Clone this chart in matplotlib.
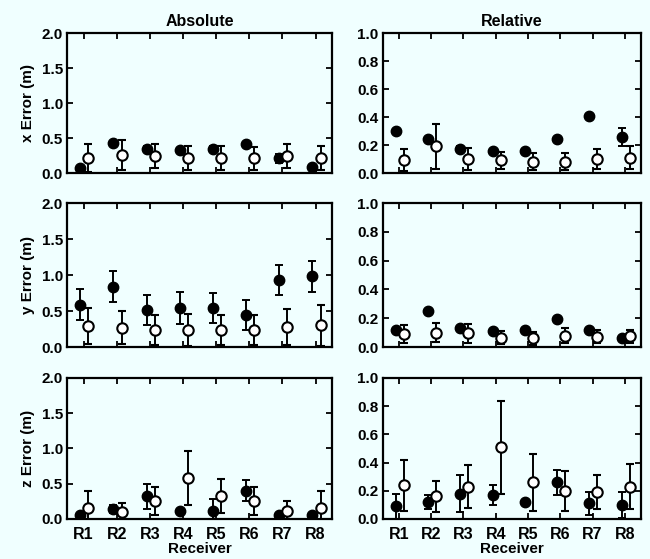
import numpy as np
import matplotlib.pyplot as plt

plt.rcParams['font.family'] = ['Liberation Sans', 'DejaVu Sans']
plt.rcParams['font.weight'] = 'bold'
plt.rcParams['axes.titleweight'] = 'bold'
plt.rcParams['axes.labelweight'] = 'bold'

receivers = ['R1', 'R2', 'R3', 'R4', 'R5', 'R6', 'R7', 'R8']

# Absolute errors (m): filled = solid symbols, open = hollow symbols
x_abs_filled = [0.07, 0.43, 0.35, 0.33, 0.35, 0.42, 0.21, 0.09]
x_abs_filled_err = [0.02, 0.03, 0.03, 0.03, 0.03, 0.03, 0.06, 0.02]
x_abs_open = [0.21, 0.26, 0.24, 0.21, 0.21, 0.21, 0.24, 0.21]
x_abs_open_err = [0.20, 0.21, 0.17, 0.17, 0.17, 0.16, 0.17, 0.17]

y_abs_filled = [0.59, 0.84, 0.51, 0.54, 0.54, 0.45, 0.93, 0.98]
y_abs_filled_err = [0.22, 0.22, 0.21, 0.22, 0.21, 0.21, 0.21, 0.22]
y_abs_open = [0.29, 0.27, 0.24, 0.24, 0.24, 0.24, 0.28, 0.30]
y_abs_open_err = [0.25, 0.23, 0.21, 0.22, 0.21, 0.21, 0.25, 0.28]

z_abs_filled = [0.05, 0.14, 0.32, 0.12, 0.11, 0.40, 0.05, 0.06]
z_abs_filled_err = [0.02, 0.06, 0.18, 0.02, 0.17, 0.15, 0.02, 0.02]
z_abs_open = [0.16, 0.10, 0.26, 0.58, 0.33, 0.26, 0.12, 0.16]
z_abs_open_err = [0.23, 0.13, 0.20, 0.38, 0.24, 0.20, 0.14, 0.24]

# Relative errors (m)
x_rel_filled = [0.30, 0.24, 0.17, 0.155, 0.16, 0.24, 0.41, 0.26]
x_rel_filled_err = [0.01, 0.01, 0.02, 0.01, 0.01, 0.01, 0.01, 0.065]
x_rel_open = [0.095, 0.19, 0.10, 0.09, 0.08, 0.08, 0.10, 0.11]
x_rel_open_err = [0.08, 0.16, 0.08, 0.06, 0.06, 0.06, 0.07, 0.08]

y_rel_filled = [0.12, 0.25, 0.13, 0.11, 0.12, 0.195, 0.115, 0.06]
y_rel_filled_err = [0.01, 0.01, 0.01, 0.01, 0.01, 0.01, 0.01, 0.01]
y_rel_open = [0.09, 0.10, 0.095, 0.065, 0.06, 0.08, 0.07, 0.075]
y_rel_open_err = [0.065, 0.065, 0.065, 0.045, 0.045, 0.05, 0.045, 0.045]

z_rel_filled = [0.09, 0.12, 0.18, 0.17, 0.12, 0.26, 0.11, 0.10]
z_rel_filled_err = [0.09, 0.05, 0.13, 0.07, 0.01, 0.09, 0.08, 0.09]
z_rel_open = [0.24, 0.16, 0.23, 0.51, 0.26, 0.20, 0.19, 0.23]
z_rel_open_err = [0.18, 0.11, 0.15, 0.33, 0.20, 0.14, 0.12, 0.16]

bg = '#f0ffff'
fig = plt.figure(figsize=(6.5, 5.59), dpi=100, facecolor=bg)

rows = [
    (0.6905, 0.2504, 'x', (x_abs_filled, x_abs_filled_err, x_abs_open, x_abs_open_err),
     (x_rel_filled, x_rel_filled_err, x_rel_open, x_rel_open_err)),
    (0.3792, 0.2576, 'y', (y_abs_filled, y_abs_filled_err, y_abs_open, y_abs_open_err),
     (y_rel_filled, y_rel_filled_err, y_rel_open, y_rel_open_err)),
    (0.0716, 0.2522, 'z', (z_abs_filled, z_abs_filled_err, z_abs_open, z_abs_open_err),
     (z_rel_filled, z_rel_filled_err, z_rel_open, z_rel_open_err)),
]

pos = np.arange(1, 9)


def draw(ax, data, ymax, yticks):
    f, fe, o, oe = data
    ax.errorbar(pos - 0.1, f, yerr=fe, fmt='o', color='black', ms=7.5,
                elinewidth=1.4, capsize=3, capthick=1.4, zorder=3)
    ax.errorbar(pos + 0.15, o, yerr=oe, fmt='o', color='black', mfc='white',
                mec='black', mew=1.5, ms=7.5, elinewidth=1.4, capsize=3,
                capthick=1.4, zorder=4)
    ax.set_xlim(0.5, 8.5)
    ax.set_ylim(0, ymax)
    ax.set_yticks(yticks)
    ax.set_yticklabels(['%.1f' % t for t in yticks])
    ax.set_xticks(pos)
    ax.set_facecolor(bg)
    ax.tick_params(direction='in', top=True, right=True, length=4, width=1.3,
                   labelsize=11, pad=3)
    ax.tick_params(axis='x', labelsize=11.5, pad=6)
    for s in ax.spines.values():
        s.set_linewidth(1.6)


for i, (b, h, lab, absd, reld) in enumerate(rows):
    axl = fig.add_axes([0.103, b, 0.408, h])
    axr = fig.add_axes([0.589, b, 0.397, h])
    draw(axl, absd, 2.0, [0.0, 0.5, 1.0, 1.5, 2.0])
    draw(axr, reld, 1.0, [0.0, 0.2, 0.4, 0.6, 0.8, 1.0])
    axl.set_ylabel(lab + ' Error (m)', fontsize=11, labelpad=5)
    if i == 0:
        axl.set_title('Absolute', fontsize=11.5, pad=5)
        axr.set_title('Relative', fontsize=11.5, pad=5)
    if i == 2:
        for ax in (axl, axr):
            ax.set_xticklabels(receivers)
            ax.set_xlabel('Receiver', fontsize=11, labelpad=0)
    else:
        axl.set_xticklabels([])
        axr.set_xticklabels([])

fig.savefig('out.png', dpi=100, facecolor=bg)
